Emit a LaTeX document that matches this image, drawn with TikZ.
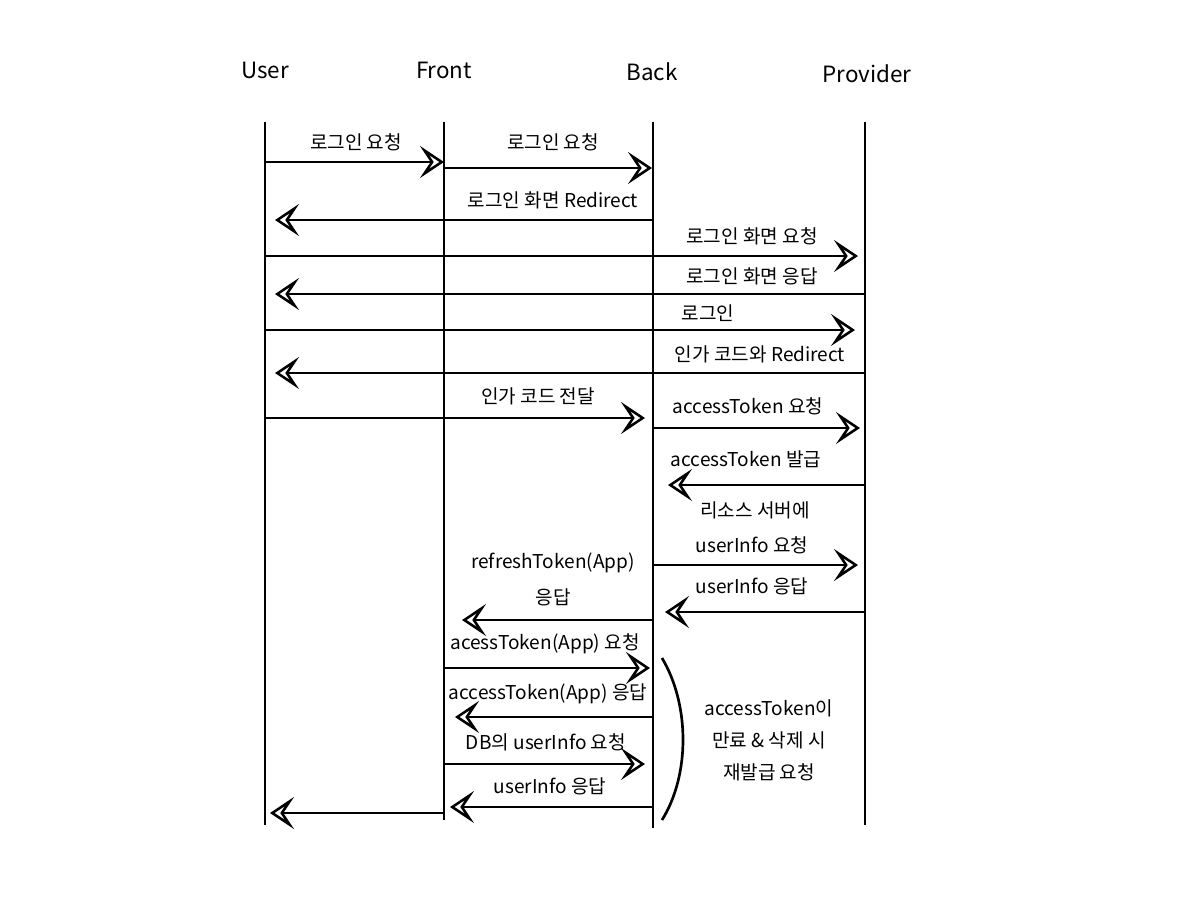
\documentclass[tikz,border=0pt]{standalone}
\usepackage{fontspec}
\setmainfont{Noto Sans CJK KR}
\usetikzlibrary{arrows.meta}
\tikzset{
  life/.style={line width=2.2pt},
  msg/.style={line width=2.2pt,-{Stealth[open,length=18pt,width=24pt,inset=8pt,line width=1.9pt]}},
  lbl/.style={font=\fontsize{14.3}{16}\selectfont,inner sep=0pt},
  hdr/.style={font=\fontsize{16.8}{19}\selectfont,inner sep=0pt},
}
\begin{document}
\begin{tikzpicture}[x=0.75pt,y=-0.75pt]
\useasboundingbox (0,0) rectangle (1200,900);
% headers
\node[hdr] (hU) at (265,70) {User};
\node[hdr] (hF) at (444,70) {Front};
\node[hdr] (hB) at (652,72) {Back};
\node[hdr] (hP) at (867,74) {Provider};
% lifelines
\coordinate (Ut) at (265,122); \coordinate (Ub) at (265,825);
\coordinate (Ft) at (444,122); \coordinate (Fb) at (444,820);
\coordinate (Bt) at (653,122); \coordinate (Bb) at (653,828);
\coordinate (Pt) at (865,122); \coordinate (Pb) at (865,825);
\draw[life] (Ut) -- (Ub);
\draw[life] (Ft) -- (Fb);
\draw[life] (Bt) -- (Bb);
\draw[life] (Pt) -- (Pb);
% messages
\draw[msg] (265,162) -- (444,162);
\node[lbl] (m1) at (356,142) {로그인 요청};
\draw[msg] (444,168) -- (652,168);
\node[lbl] (m2) at (553,142) {로그인 요청};
\draw[msg] (653,220) -- (275,220);
\node[lbl] (m3) at (553,200) {로그인 화면 Redirect};
\draw[msg] (265,256) -- (858,256);
\node[lbl] (m4) at (752,236) {로그인 화면 요청};
\draw[msg] (865,294) -- (275,294);
\node[lbl] (m5) at (752,276) {로그인 화면 응답};
\draw[msg] (265,330) -- (855,330);
\node[lbl] (m6) at (708,313) {로그인};
\draw[msg] (865,373) -- (275,373);
\node[lbl] (m7) at (760,354) {인가 코드와 Redirect};
\draw[msg] (265,418) -- (645,418);
\node[lbl] (m8) at (538,396) {인가 코드 전달};
\draw[msg] (653,428) -- (860,428);
\node[lbl] (m9) at (748,406) {accessToken 요청};
\draw[msg] (865,485) -- (668,485);
\node[lbl] (m10) at (746,459) {accessToken 발급};
\draw[msg] (653,565) -- (858,565);
\node[lbl] (m11a) at (755,510) {리소스 서버에};
\node[lbl] (m11b) at (752,545) {userInfo 요청};
\draw[msg] (865,612) -- (665,612);
\node[lbl] (m12) at (752,586) {userInfo 응답};
\draw[msg] (653,620) -- (462,620);
\node[lbl] (m13a) at (553,563) {refreshToken(App)};
\node[lbl] (m13b) at (553,597) {응답};
\draw[msg] (444,668) -- (650,668);
\node[lbl] (m14) at (545,644) {acessToken(App) 요청};
\draw[msg] (653,717) -- (455,717);
\node[lbl] (m15) at (548,694) {accessToken(App) 응답};
\draw[msg] (444,764) -- (645,764);
\node[lbl] (m16) at (546,742) {DB의 userInfo 요청};
\draw[msg] (653,807) -- (450,807);
\node[lbl] (m17) at (550,786) {userInfo 응답};
\draw[msg] (444,813) -- (270,813);
% brace
\coordinate (br1) at (662,658);
\coordinate (br2) at (662,820);
\draw[line width=2pt] (br1) .. controls (690,705) and (690,775) .. (br2);
\node[lbl,align=center,font=\fontsize{14.3}{24}\selectfont] (note) at (769,740) {accessToken이\\만료 \& 삭제 시\\재발급 요청};
\end{tikzpicture}
\end{document}
